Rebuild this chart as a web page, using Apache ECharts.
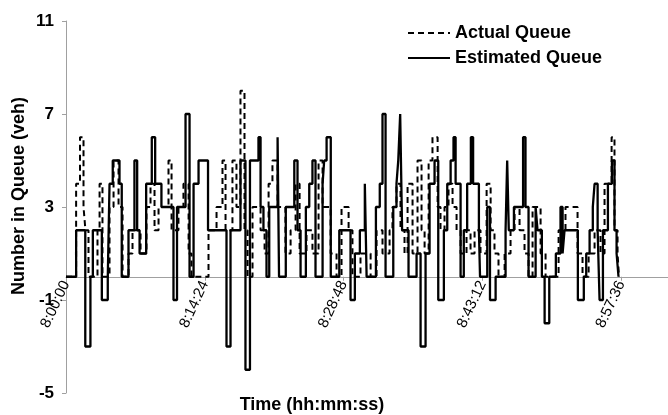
<!DOCTYPE html>
<html><head><meta charset="utf-8">
<script src="https://cdn.jsdelivr.net/npm/echarts@6/dist/echarts.min.js"></script>
<style>html,body{margin:0;padding:0;background:#fff}#c{width:668px;height:415px}</style>
</head><body><div id="c"></div>
<script>
// x values: seconds after 8:00:00
const tickLabels = ['8:00:00', '8:14:24', '8:28:48', '8:43:12', '8:57:36'];
const yTicks = [-5, -1, 3, 7, 11];

const estTimes = [0,63,120,152,167,223,260,271,291,333,347,389,426,443,458,499,534,555,594,669,691,744,769,794,825,884,999,1024,1086,1117,1145,1198,1211,1229,1248,1265,1317,1326,1368,1421,1441,1460,1493,1514,1534,1553,1597,1607,1622,1648,1701,1771,1798,1829,1860,1871,1929,1953,1970,1989,2037,2057,2068,2080,2092,2132,2182,2207,2238,2263,2294,2317,2352,2373,2394,2412,2425,2456,2476,2497,2520,2534,2570,2577,2622,2639,2674,2736,2746,2756,2788,2845,2860,2879,2923,2935,2962,2979,3008,3049,3078,3091,3103,3186,3223,3238,3259,3279,3290,3309,3321,3342,3373,3398,3414,3427,3439];
const estValues = [0,2,-3,0,2,-1,0,4,5,4,0,2,5,2,1,4,6,4,3,-1,3,7,0,4,5,2,-3,2,5,-4,5,6,3,2,0,3,6,0,3,5,2,0,3,4,5,0,4,5,6,0,2,-1,1,2,4,0,3,4,7,0,3,4,5,7,2,0,1,-3,1,4,5,-1,2,4,5,6,4,0,2,4,6,4,2,0,3,-1,0,2,5,2,3,6,3,0,3,2,0,-2,0,1,3,1,2,-1,0,1,2,3,4,2,-1,2,4,5,2,1,0];

const actTimes = [0,63,87,109,121,140,196,209,227,271,296,327,352,389,414,464,501,526,551,576,638,657,700,731,763,781,887,937,974,993,1036,1061,1086,1111,1130,1161,1211,1236,1261,1285,1317,1366,1398,1429,1454,1497,1534,1572,1597,1647,1684,1715,1759,1783,1833,1896,1933,1970,2014,2032,2057,2082,2107,2126,2157,2188,2213,2232,2257,2281,2313,2331,2356,2381,2406,2431,2456,2493,2518,2543,2580,2618,2643,2667,2692,2730,2767,2792,2823,2854,2879,2904,2954,2985,3066,3109,3184,3215,3253,3290,3327,3352,3396,3414,3433,3442];
const actValues = [0,4,6,3,2,0,2,4,0,3,5,3,0,1,2,1,3,4,2,3,5,2,3,4,1,0,2,3,5,2,5,3,8,2,0,3,2,1,4,5,3,1,2,4,1,2,1,5,3,1,0,3,2,0,1,0,2,1,2,3,4,2,1,4,1,5,2,1,5,6,3,2,3,4,3,2,1,2,1,2,1,4,2,1,0,1,2,3,2,1,0,3,1,0,2,3,1,0,1,2,1,4,6,2,1,0];

const estData = estTimes.map((t, i) => [t, estValues[i]]);
const actData = actTimes.map((t, i) => [t, actValues[i]]);

const gridTop = 21, gridBottom = 22, H = 415;
const plotH = H - gridTop - gridBottom;
const yMin = yTicks[0], yMax = yTicks[yTicks.length - 1];
// move the x axis up so it sits on the zero line
const zeroOffset = -plotH * (0 - yMin) / (yMax - yMin);

const chart = echarts.init(document.getElementById('c'), null, {renderer: 'canvas'});
const font = 'Liberation Sans, Arial, sans-serif';
chart.setOption({
  animation: false,
  backgroundColor: '#fff',
  grid: {left: 66, right: 0, top: gridTop, bottom: gridBottom, containLabel: false, outerBoundsMode: 'none'},
  legend: {
    orient: 'vertical', left: 402, top: 19, itemWidth: 42, itemHeight: 18, itemGap: 7,
    itemStyle: {opacity: 0},
    textStyle: {fontFamily: font, fontSize: 18, fontWeight: 'bold', color: '#000'},
    data: ['Actual Queue', 'Estimated Queue']
  },
  xAxis: {
    type: 'value', min: 0, max: 3747, interval: 864,
    position: 'bottom', offset: zeroOffset,
    axisLine: {onZero: false, lineStyle: {color: '#a0a0a0', width: 1}},
    axisTick: {show: true, length: 4, inside: false, lineStyle: {color: '#a0a0a0'}},
    splitLine: {show: false},
    axisLabel: {
      rotate: 65, fontFamily: font, fontSize: 15, color: '#000', margin: 5,
      showMaxLabel: false,
      formatter: v => (v % 864 === 0 ? (tickLabels[v / 864] || '') : '')
    }
  },
  yAxis: {
    type: 'value', min: yMin, max: yMax, interval: 4,
    axisLine: {show: true, lineStyle: {color: '#a0a0a0', width: 1}},
    axisTick: {show: true, length: 4, lineStyle: {color: '#a0a0a0'}},
    splitLine: {show: false},
    axisLabel: {fontFamily: font, fontSize: 17, fontWeight: 'bold', color: '#000', margin: 12}
  },
  graphic: [
    {type: 'text', x: 19, y: 196, rotation: Math.PI / 2,
     style: {text: 'Number in Queue (veh)', font: 'bold 18px Liberation Sans, Arial, sans-serif', fill: '#000', align: 'center', verticalAlign: 'middle'}},
    {type: 'text', x: 312, y: 405,
     style: {text: 'Time (hh:mm:ss)', font: 'bold 18px Liberation Sans, Arial, sans-serif', fill: '#000', align: 'center', verticalAlign: 'middle'}}
  ],
  series: [
    {name: 'Actual Queue', type: 'line', step: 'end', data: actData, symbol: 'none',
     lineStyle: {color: '#000', width: 2, type: [6, 4]}, itemStyle: {color: '#000'}, z: 2},
    {name: 'Estimated Queue', type: 'line', step: 'end', data: estData, symbol: 'none',
     lineStyle: {color: '#000', width: 2.3, type: 'solid'}, itemStyle: {color: '#000'}, z: 3}
  ]
});
</script></body></html>
